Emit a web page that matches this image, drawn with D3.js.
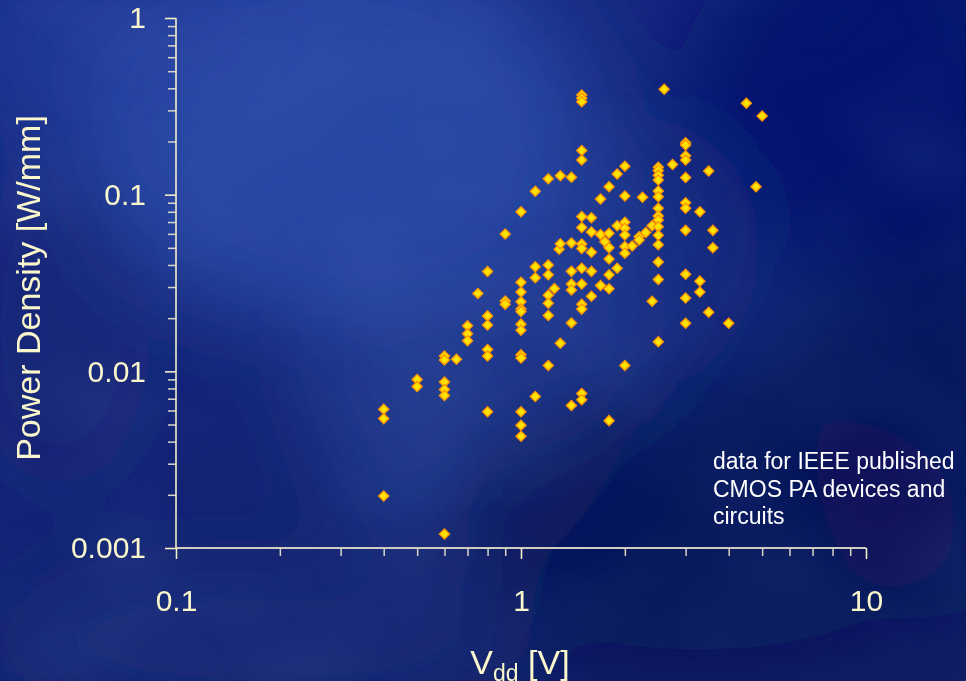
<!DOCTYPE html>
<html>
<head>
<meta charset="utf-8">
<script src="https://cdn.jsdelivr.net/npm/d3@7"></script>
<style>
  html, body { margin: 0; padding: 0; background: #13237a; }
  svg { display: block; }
  text { font-family: "Liberation Sans", Arial, sans-serif; }
</style>
</head>
<body>
<svg id="chart" width="966" height="681"></svg>
<script>
// Supply voltage of each group of published results [V]
const vddGroups = [0.4, 0.5, 0.6, 0.65, 0.7, 0.75, 0.8, 0.9, 1.0, 1.1, 1.2, 1.25, 1.29, 1.3, 1.4,
  1.5, 1.6, 1.7, 1.75, 1.8, 1.9, 2.0, 2.1, 2.2, 2.25, 2.3, 2.4, 2.5, 2.6, 2.75, 3.0, 3.3, 3.5,
  3.6, 4.0, 4.5, 4.8, 5.0];

// Output power density reported at each supply voltage [W/mm]
const densityGroups = [
  [0.0061, 0.0054, 0.00197],
  [0.0090, 0.0082],
  [0.0122, 0.0116, 0.0087, 0.0079, 0.0073, 0.0012],
  [0.0117],
  [0.0181, 0.0163, 0.0149],
  [0.0276],
  [0.0367, 0.0206, 0.0183, 0.0133, 0.0122, 0.0059],
  [0.0599, 0.0250, 0.0240],
  [0.080, 0.0319, 0.0281, 0.0248, 0.0225, 0.0218, 0.0185, 0.0171, 0.0124, 0.0119, 0.0059, 0.00495, 0.00429],
  [0.1045, 0.0391, 0.0339, 0.0072],
  [0.1231, 0.040, 0.0352, 0.0270, 0.0243, 0.0207, 0.0108],
  [0.0294],
  [0.0491],
  [0.128, 0.0528, 0.0144],
  [0.1254, 0.0533, 0.0368, 0.0312, 0.0289, 0.0188, 0.0064],
  [0.367, 0.351, 0.336, 0.178, 0.157, 0.0752, 0.0652, 0.0526, 0.0496, 0.0383, 0.0312, 0.0240, 0.0225, 0.0075, 0.0069],
  [0.0741, 0.0615, 0.0472, 0.0368, 0.0266],
  [0.0945, 0.0595, 0.0306],
  [0.0542],
  [0.111, 0.0604, 0.0501, 0.0432, 0.0352, 0.0293, 0.00526],
  [0.131, 0.0667, 0.0383],
  [0.145, 0.0983, 0.0698, 0.0645, 0.0591, 0.0509, 0.0466, 0.0108],
  [0.0512],
  [0.0578, 0.0554],
  [0.0966],
  [0.0611],
  [0.0667, 0.0249],
  [0.143, 0.137, 0.129, 0.121, 0.105, 0.0974, 0.0837, 0.0757, 0.0719, 0.0659, 0.0589, 0.0521, 0.0416, 0.0331, 0.0147],
  [0.395],
  [0.148],
  [0.197, 0.191, 0.166, 0.157, 0.125, 0.090, 0.0837, 0.0628, 0.0354, 0.0260, 0.0187],
  [0.080, 0.0324, 0.0281],
  [0.136, 0.0216],
  [0.0628, 0.0501],
  [0.0187],
  [0.329],
  [0.111],
  [0.279]
];

const xMajorTicks = [0.1, 1, 10];
const xTickLabels = ["0.1", "1", "10"];
const yMajorTicks = [0.001, 0.01, 0.1, 1];
const yTickLabels = ["0.001", "0.01", "0.1", "1"];
const noteLines = ["data for IEEE published", "CMOS PA devices and", "circuits"];

const points = [];
vddGroups.forEach((v, i) => densityGroups[i].forEach(p => points.push({ vdd: v, pd: p })));

const svg = d3.select("#chart");
const W = 966, H = 681;
const axisColor = "#f3efc8";
const labelColor = "#fbf7cc";

// ---- background: deep blue with soft cloudy patches ----
const defs = svg.append("defs");
const bg = defs.append("linearGradient").attr("id", "bgGrad")
  .attr("x1", 0).attr("y1", 0).attr("x2", 0.6).attr("y2", 1);
bg.append("stop").attr("offset", "0%").attr("stop-color", "#1a2e8c");
bg.append("stop").attr("offset", "100%").attr("stop-color", "#111f66");

defs.append("filter").attr("id", "soft")
  .attr("x", "-50%").attr("y", "-50%").attr("width", "200%").attr("height", "200%")
  .append("feGaussianBlur").attr("stdDeviation", 45);

const cloud = defs.append("filter").attr("id", "cloud")
  .attr("x", 0).attr("y", 0).attr("width", "100%").attr("height", "100%");
cloud.append("feTurbulence").attr("type", "fractalNoise")
  .attr("baseFrequency", "0.006 0.008").attr("numOctaves", 2).attr("seed", 7).attr("result", "noise");
cloud.append("feColorMatrix").attr("in", "noise").attr("type", "matrix")
  .attr("values", "0 0 0 0 0.16  0 0 0 0 0.28  0 0 0 0 0.66  0 0 0 1.0 -0.4")
  .attr("result", "tint");
cloud.append("feGaussianBlur").attr("in", "tint").attr("stdDeviation", 6);

svg.append("rect").attr("width", W).attr("height", H).attr("fill", "url(#bgGrad)");

const blobs = [
  { cx: 330, cy: 130, rx: 260, ry: 190, c: "#2d52b0", o: 0.75 },
  { cx: 470, cy: 320, rx: 170, ry: 260, c: "#284aa3", o: 0.5 },
  { cx: 120, cy: 40, rx: 160, ry: 90, c: "#2440a0", o: 0.5 },
  { cx: 880, cy: 90, rx: 200, ry: 180, c: "#08106a", o: 0.8 },
  { cx: 700, cy: 520, rx: 260, ry: 130, c: "#080f52", o: 0.7 },
  { cx: 930, cy: 420, rx: 120, ry: 200, c: "#0a1458", o: 0.6 },
  { cx: 60, cy: 330, rx: 90, ry: 160, c: "#0f1d70", o: 0.5 },
  { cx: 260, cy: 640, rx: 260, ry: 70, c: "#1b3282", o: 0.6 },
  { cx: 640, cy: 250, rx: 120, ry: 130, c: "#1d3590", o: 0.45 }
];
svg.append("g").attr("filter", "url(#soft)")
  .selectAll("ellipse").data(blobs).join("ellipse")
  .attr("cx", d => d.cx).attr("cy", d => d.cy)
  .attr("rx", d => d.rx).attr("ry", d => d.ry)
  .attr("fill", d => d.c).attr("opacity", d => d.o);

svg.append("rect").attr("width", W).attr("height", H)
  .attr("filter", "url(#cloud)").attr("opacity", 0.2);

// ---- scales ----
const x = d3.scaleLog().domain([0.1, 10]).range([176, 866]);
const y = d3.scaleLog().domain([0.001, 1]).range([548, 18]);

function minorTicks(lo, hi) {
  const out = [];
  for (let dec = lo; dec < hi; dec *= 10) {
    for (let k = 2; k <= 9; k++) out.push(+(k * dec).toPrecision(3));
  }
  return out;
}

// ---- y axis ----
const yMinor = svg.append("g").attr("transform", `translate(${x(0.1)},0)`)
  .call(d3.axisLeft(y).tickValues(minorTicks(0.001, 1)).tickSize(8).tickFormat(""));
yMinor.select(".domain").remove();
yMinor.selectAll("line").attr("stroke", "#d8d6c8").attr("stroke-width", 1.5);

const yMajor = svg.append("g").attr("transform", `translate(${x(0.1)},0)`)
  .call(d3.axisLeft(y).tickValues(yMajorTicks).tickSize(11).tickPadding(19)
    .tickFormat((d, i) => yTickLabels[i]));
yMajor.select(".domain").attr("stroke", axisColor).attr("stroke-width", 1.6)
  .attr("d", `M0,${y(1)}V${y(0.001)}`);
yMajor.selectAll("line").attr("stroke", axisColor).attr("stroke-width", 1.6);
yMajor.selectAll("text").attr("fill", labelColor).attr("font-size", 30).attr("dy", "0.33em");

// ---- x axis ----
const xMinor = svg.append("g").attr("transform", `translate(0,${y(0.001)})`)
  .call(d3.axisBottom(x).tickValues(minorTicks(0.1, 10)).tickSize(8).tickFormat(""));
xMinor.select(".domain").remove();
xMinor.selectAll("line").attr("stroke", "#d8d6c8").attr("stroke-width", 1.5);

const xMajor = svg.append("g").attr("transform", `translate(0,${y(0.001)})`)
  .call(d3.axisBottom(x).tickValues(xMajorTicks).tickSize(11).tickPadding(31)
    .tickFormat((d, i) => xTickLabels[i]));
xMajor.select(".domain").attr("stroke", "#cfcdc0").attr("stroke-width", 2)
  .attr("d", `M${x(0.1)},0H${x(10)}`);
xMajor.selectAll("line").attr("stroke", axisColor).attr("stroke-width", 1.6);
xMajor.selectAll("text").attr("fill", labelColor).attr("font-size", 30);

svg.selectAll(".tick text").attr("font-family", "'Liberation Sans', Arial, sans-serif");

// ---- axis titles ----
svg.append("text")
  .attr("transform", `translate(40,${(y(0.001) + y(1)) / 2 + 5}) rotate(-90)`)
  .attr("text-anchor", "middle").attr("fill", labelColor).attr("font-size", 34)
  .text("Power Density [W/mm]");

const xTitle = svg.append("text")
  .attr("x", (x(0.1) + x(10)) / 2 - 1).attr("y", 674)
  .attr("text-anchor", "middle").attr("fill", labelColor).attr("font-size", 34);
xTitle.append("tspan").text("V");
xTitle.append("tspan").attr("font-size", 23).attr("dy", 7).text("dd");
xTitle.append("tspan").attr("dy", -7).text(" [V]");

// ---- note ----
svg.append("g").selectAll("text").data(noteLines).join("text")
  .attr("x", 713).attr("y", (d, i) => 469 + i * 27.5)
  .attr("fill", "#ffffff").attr("font-size", 23)
  .text(d => d);

// ---- data markers ----
const diamond = d3.symbol().type(d3.symbolSquare).size(52);
svg.append("g").selectAll("path").data(points).join("path")
  .attr("d", diamond)
  .attr("transform", d => `translate(${x(d.vdd)},${y(d.pd)}) rotate(45)`)
  .attr("fill", "#ffe200")
  .attr("stroke", "#ff9300")
  .attr("stroke-width", 1.3);
</script>
</body>
</html>
